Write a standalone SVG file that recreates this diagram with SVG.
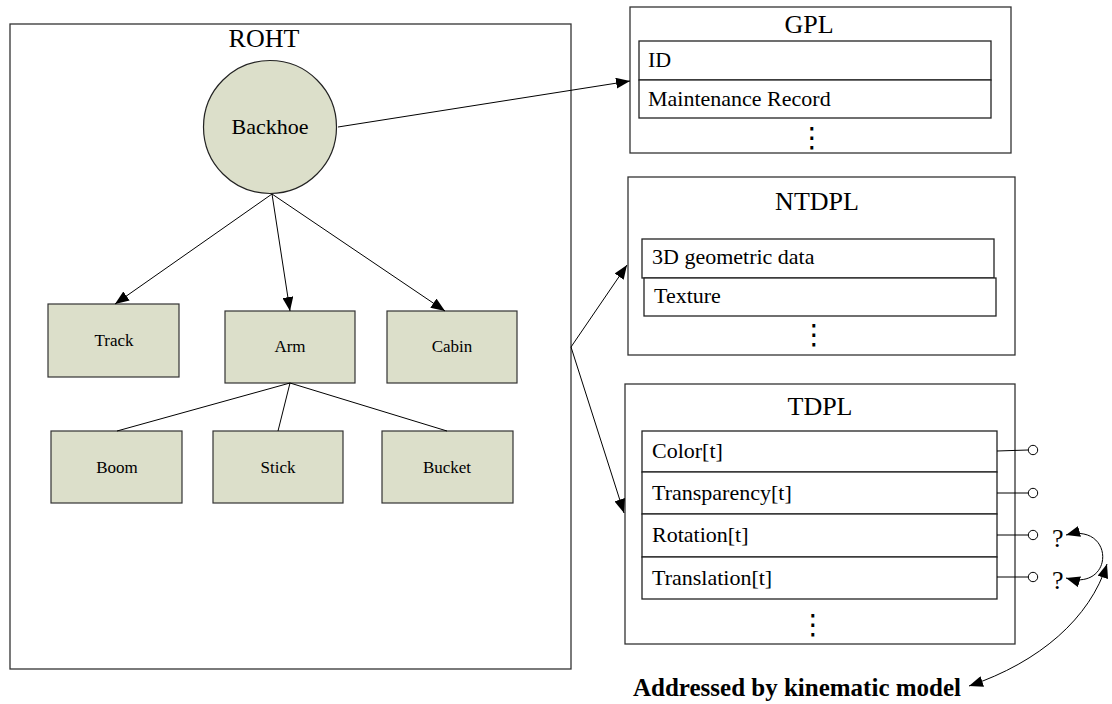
<svg xmlns="http://www.w3.org/2000/svg" width="1112" height="704" viewBox="0 0 1112 704">
  <style>
    .frame { fill: #ffffff; stroke: #333333; stroke-width: 1.3; }
    .node { fill: #dcdfca; stroke: #333333; stroke-width: 1.2; }
    .row { fill: #ffffff; stroke: #222222; stroke-width: 1.3; }
    .edge { fill: none; stroke: #000000; stroke-width: 1; }
    .title { font-family: "Liberation Serif", "Times New Roman", serif; font-size: 26px; fill: #000; text-anchor: middle; }
    .lbl { font-family: "Liberation Serif", "Times New Roman", serif; font-size: 17px; fill: #000; text-anchor: middle; }
    .field { font-family: "Liberation Serif", "Times New Roman", serif; font-size: 22px; fill: #000; }
    .q { font-family: "Liberation Serif", "Times New Roman", serif; font-size: 26px; fill: #000; }
    .dots { font-family: "DejaVu Serif", "DejaVu Sans", serif; font-size: 28px; fill: #000; text-anchor: middle; }
    .pin { fill: #ffffff; stroke: #000; stroke-width: 1; }
  </style>
  <defs>
    <marker id="arrow" viewBox="0 0 14 11" refX="14" refY="5.5" markerWidth="14" markerHeight="11" markerUnits="userSpaceOnUse" orient="auto-start-reverse">
      <path d="M0,0 L14,5.5 L0,11 z" fill="#000"/>
    </marker>
  </defs>

  <!-- Object hierarchy tree -->
  <g id="roht">
    <rect class="frame" x="10" y="24" width="561" height="645"/>
    <text class="title" x="264" y="47">ROHT</text>
  </g>
  <g id="backhoe">
    <circle cx="270" cy="127" r="66.5" fill="#dcdfca" stroke="#222" stroke-width="1.2"/>
    <text class="field" x="270" y="134" text-anchor="middle">Backhoe</text>
  </g>
  <g id="track">
    <rect class="node" x="48" y="304" width="131" height="73"/>
    <text class="lbl" x="114" y="346">Track</text>
  </g>
  <g id="arm">
    <rect class="node" x="225" y="311" width="130" height="72"/>
    <text class="lbl" x="290" y="352">Arm</text>
  </g>
  <g id="cabin">
    <rect class="node" x="387" y="311" width="130" height="72"/>
    <text class="lbl" x="452" y="352">Cabin</text>
  </g>
  <g id="boom">
    <rect class="node" x="51" y="431" width="131" height="72"/>
    <text class="lbl" x="117" y="473">Boom</text>
  </g>
  <g id="stick">
    <rect class="node" x="213" y="431" width="130" height="72"/>
    <text class="lbl" x="278" y="473">Stick</text>
  </g>
  <g id="bucket">
    <rect class="node" x="382" y="431" width="131" height="72"/>
    <text class="lbl" x="447" y="473">Bucket</text>
  </g>

  <!-- Property lists -->
  <g id="gpl">
    <rect class="frame" x="630" y="7" width="381" height="146"/>
    <text class="title" x="809" y="33">GPL</text>
    <rect class="row" x="639" y="41" width="352" height="39"/>
    <rect class="row" x="639" y="80" width="352" height="38"/>
    <text class="field" x="648" y="67">ID</text>
    <text class="field" x="648" y="106">Maintenance Record</text>
    <text class="dots" x="812" y="147">⋮</text>
  </g>
  <g id="ntdpl">
    <rect class="frame" x="628" y="177" width="387" height="178"/>
    <text class="title" x="817" y="210">NTDPL</text>
    <rect class="row" x="642" y="239" width="352" height="39"/>
    <rect class="row" x="644" y="278" width="352" height="38"/>
    <text class="field" x="652" y="264">3D geometric data</text>
    <text class="field" x="654" y="303">Texture</text>
    <text class="dots" x="814" y="344">⋮</text>
  </g>
  <g id="tdpl">
    <rect class="frame" x="625" y="384" width="390" height="260"/>
    <text class="title" x="820" y="415">TDPL</text>
    <rect class="row" x="642" y="431" width="355" height="41"/>
    <rect class="row" x="642" y="472" width="355" height="42"/>
    <rect class="row" x="642" y="514" width="355" height="43"/>
    <rect class="row" x="642" y="557" width="355" height="42"/>
    <text class="field" x="652" y="458">Color[t]</text>
    <text class="field" x="652" y="500">Transparency[t]</text>
    <text class="field" x="652" y="542">Rotation[t]</text>
    <text class="field" x="652" y="585">Translation[t]</text>
    <text class="dots" x="813" y="634">⋮</text>
  </g>

  <!-- Time-dependent property ports -->
  <g id="ports">
    <line class="edge" x1="997" y1="451" x2="1028" y2="450"/>
    <circle class="pin" cx="1033" cy="450" r="4.7"/>
    <line class="edge" x1="997" y1="493" x2="1028" y2="493"/>
    <circle class="pin" cx="1033" cy="493" r="4.7"/>
    <line class="edge" x1="997" y1="535" x2="1028" y2="535"/>
    <circle class="pin" cx="1033" cy="535" r="4.7"/>
    <line class="edge" x1="997" y1="577" x2="1028" y2="577"/>
    <circle class="pin" cx="1033" cy="577" r="4.7"/>
    <text class="q" x="1052" y="547">?</text>
    <text class="q" x="1052" y="589">?</text>
  </g>

  <g id="kinematic-note">
    <text x="797" y="696" font-family="'Liberation Serif', 'Times New Roman', serif" font-size="25" font-weight="bold" text-anchor="middle">Addressed by kinematic model</text>
  </g>

  <!-- Connectors -->
  <g id="connectors">
    <line class="edge" x1="272" y1="194" x2="115" y2="304" marker-end="url(#arrow)"/>
    <line class="edge" x1="272" y1="194" x2="290" y2="311" marker-end="url(#arrow)"/>
    <line class="edge" x1="272" y1="194" x2="445" y2="311" marker-end="url(#arrow)"/>
    <line class="edge" x1="290" y1="383" x2="117" y2="431"/>
    <line class="edge" x1="290" y1="383" x2="278" y2="431"/>
    <line class="edge" x1="290" y1="383" x2="447" y2="431"/>
    <line class="edge" x1="338" y1="127" x2="630" y2="81" marker-end="url(#arrow)"/>
    <line class="edge" x1="571" y1="347" x2="627" y2="265" marker-end="url(#arrow)"/>
    <line class="edge" x1="571" y1="347" x2="624" y2="513" marker-end="url(#arrow)"/>
    <path class="edge" d="M1066,535 C1115,522 1115,592 1066,578" marker-start="url(#arrow)" marker-end="url(#arrow)"/>
    <path class="edge" d="M969,686 C1040,662 1090,618 1107,564" marker-start="url(#arrow)" marker-end="url(#arrow)"/>
  </g>
</svg>
